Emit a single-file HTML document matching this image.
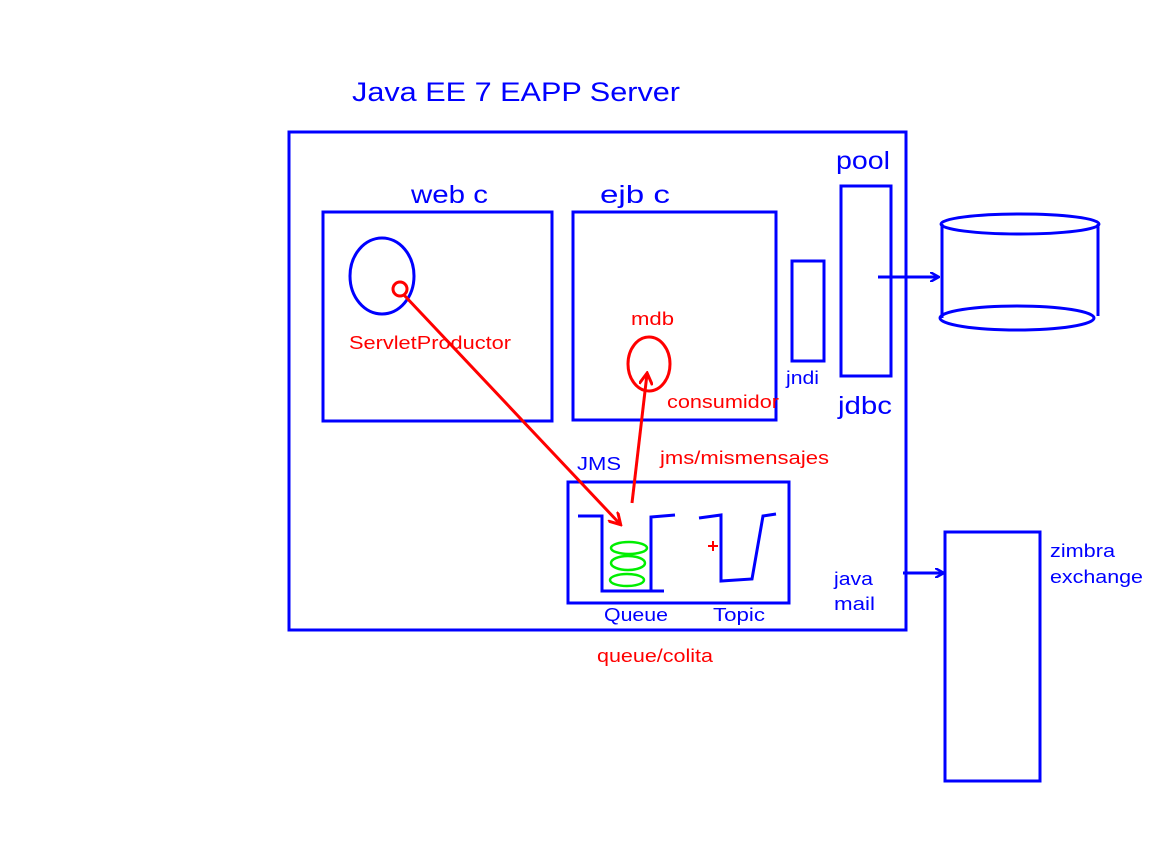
<!DOCTYPE html>
<html><head><meta charset="utf-8"><style>
html,body{margin:0;padding:0;background:#fff;}
svg{display:block}
text{font-family:"Liberation Sans",sans-serif;}
</style></head><body>
<svg width="1152" height="864" viewBox="0 0 1152 864" xmlns="http://www.w3.org/2000/svg">
<defs>
<marker id="ab" markerWidth="10" markerHeight="10" refX="8" refY="5" orient="auto" markerUnits="userSpaceOnUse"><path d="M0,0 L9,5 L0,10" fill="none" stroke="#0000ff" stroke-width="2.5"/></marker>
<marker id="ar" markerWidth="14" markerHeight="14" refX="11" refY="7" orient="auto" markerUnits="userSpaceOnUse"><path d="M0,0 L12,7 L0,14" fill="none" stroke="#ff0000" stroke-width="3"/></marker>
</defs>
<g fill="none" stroke="#0000ff" stroke-width="3">
<rect x="289" y="132" width="617" height="498"/>
<rect x="323" y="212" width="229" height="209"/>
<rect x="573" y="212" width="203" height="208"/>
<rect x="792" y="261" width="32" height="100"/>
<rect x="841" y="186" width="50" height="190"/>
<rect x="568" y="482" width="221" height="121"/>
<rect x="945" y="532" width="95" height="249"/>
<ellipse cx="382" cy="276" rx="32" ry="38"/>
<ellipse cx="1020" cy="224" rx="79" ry="10"/>
<ellipse cx="1017" cy="318" rx="77" ry="12"/>
<line x1="942" y1="224" x2="942" y2="318"/>
<line x1="1098" y1="224" x2="1098" y2="316"/>
<line x1="878" y1="277" x2="938" y2="277" marker-end="url(#ab)"/>
<line x1="903" y1="573" x2="943" y2="573" marker-end="url(#ab)"/>
<polyline points="578,516 602,516 602,591 664,591"/>
<polyline points="651,591 651,517 675,515"/>
<polyline points="699,518 721,515 721,581 752,579 763,516 776,514"/>
</g>
<g fill="none" stroke="#00ee00" stroke-width="2.5">
<ellipse cx="629" cy="548" rx="18" ry="6"/>
<ellipse cx="628" cy="563" rx="17" ry="7"/>
<ellipse cx="627" cy="580" rx="17" ry="6"/>
</g>
<g fill="none" stroke="#ff0000" stroke-width="3">
<circle cx="400" cy="289" r="7"/>
<ellipse cx="649" cy="364" rx="21" ry="27"/>
<line x1="404" y1="295" x2="620" y2="524" marker-end="url(#ar)"/>
<line x1="632" y1="503" x2="647" y2="374" marker-end="url(#ar)"/>
<line x1="708" y1="546" x2="718" y2="546" stroke-width="2"/>
<line x1="713" y1="541" x2="713" y2="551" stroke-width="2"/>
</g>
<g fill="#0000ff">
<text x="352" y="101" font-size="27" textLength="328" lengthAdjust="spacingAndGlyphs">Java EE 7  EAPP Server</text>
<text x="411" y="203" font-size="25" textLength="77" lengthAdjust="spacingAndGlyphs">web c</text>
<text x="600" y="203" font-size="25" textLength="70" lengthAdjust="spacingAndGlyphs">ejb  c</text>
<text x="836" y="169" font-size="25" textLength="54" lengthAdjust="spacingAndGlyphs">pool</text>
<text x="838" y="414" font-size="25" textLength="54" lengthAdjust="spacingAndGlyphs">jdbc</text>
<text x="786" y="384" font-size="18" textLength="33" lengthAdjust="spacingAndGlyphs">jndi</text>
<text x="577" y="470" font-size="18" textLength="44" lengthAdjust="spacingAndGlyphs">JMS</text>
<text x="604" y="621" font-size="18" textLength="64" lengthAdjust="spacingAndGlyphs">Queue</text>
<text x="713" y="621" font-size="18" textLength="52" lengthAdjust="spacingAndGlyphs">Topic</text>
<text x="834" y="585" font-size="18" textLength="39" lengthAdjust="spacingAndGlyphs">java</text>
<text x="834" y="610" font-size="18" textLength="41" lengthAdjust="spacingAndGlyphs">mail</text>
<text x="1050" y="557" font-size="18" textLength="65" lengthAdjust="spacingAndGlyphs">zimbra</text>
<text x="1050" y="583" font-size="18" textLength="93" lengthAdjust="spacingAndGlyphs">exchange</text>
</g>
<g fill="#ff0000">
<text x="349" y="349" font-size="18" textLength="162" lengthAdjust="spacingAndGlyphs">ServletProductor</text>
<text x="631" y="325" font-size="18" textLength="43" lengthAdjust="spacingAndGlyphs">mdb</text>
<text x="667" y="408" font-size="18" textLength="112" lengthAdjust="spacingAndGlyphs">consumidor</text>
<text x="660" y="464" font-size="18" textLength="169" lengthAdjust="spacingAndGlyphs">jms/mismensajes</text>
<text x="597" y="662" font-size="18" textLength="116" lengthAdjust="spacingAndGlyphs">queue/colita</text>
</g>
</svg>
</body></html>
